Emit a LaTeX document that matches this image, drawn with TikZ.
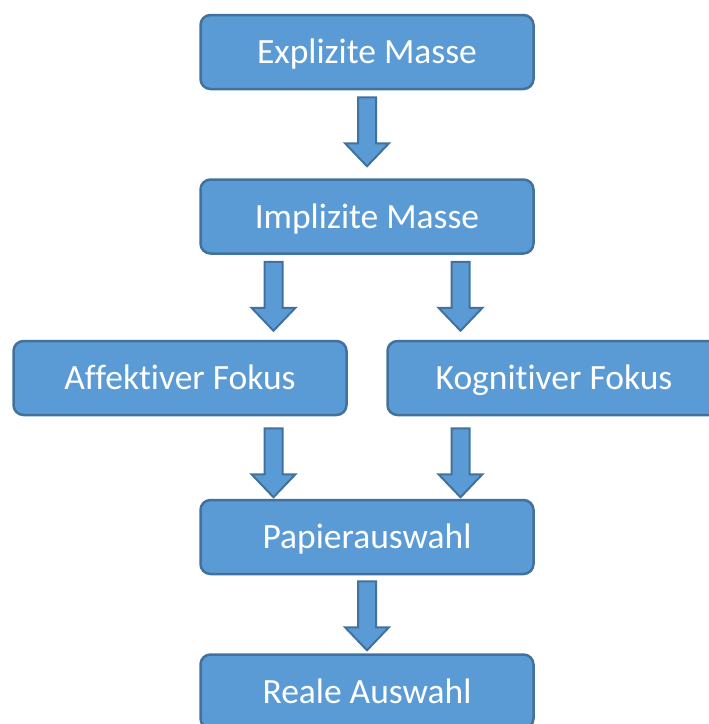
\documentclass[tikz,border=0pt]{standalone}
\usepackage{fontspec}
\setmainfont[RawFeature=-liga]{Carlito}
\usetikzlibrary{positioning,calc}
\definecolor{boxblue}{HTML}{5B9BD5}
\definecolor{boxline}{HTML}{41719C}

\tikzset{
  stage/.style={draw=boxline, line width=2.5pt, fill=boxblue, rounded corners=10pt,
    minimum width=333pt, minimum height=74pt, inner sep=0pt, text=white,
    text height=23pt, text depth=0pt, font=\fontsize{35.5}{40}\selectfont},
  blockarr/.style={draw=boxline, line width=2pt, fill=boxblue, line join=miter}
}

% block arrow: #1 x reference, #2 source node, #3 gap below the source
\newcommand{\blockarrow}[3]{%
  \draw[blockarr] let \p1=(#1), \p2=(#2.south) in
    (\x1-9pt,\y2-#3) -- (\x1+9pt,\y2-#3) -- (\x1+9pt,\y2-#3-46pt)
    -- (\x1+22pt,\y2-#3-46pt) -- (\x1,\y2-#3-69pt) -- (\x1-22pt,\y2-#3-46pt)
    -- (\x1-9pt,\y2-#3-46pt) -- cycle;}

\begin{document}
\begin{tikzpicture}[x=1pt,y=-1pt]
    \path[use as bounding box, clip] (0,0) rectangle (709,724);

    \node[stage] (expl) at (367,52) {Explizite Masse};
    \node[stage, below=88pt of expl] (impl) {Implizite Masse};
    \node[stage, below=85pt of impl, xshift=-187pt] (affekt) {Affektiver Fokus};
    \node[stage, below=85pt of impl, xshift=187pt] (kogn) {Kognitiver Fokus};
    \node[stage, below=84pt of impl, yshift=-160pt] (papier) {Papierauswahl};
    \node[stage, below=78pt of papier] (real) {Reale Auswahl};

    \coordinate (mL) at ($(impl)!0.5!(affekt)$);
    \coordinate (mR) at ($(impl)!0.5!(kogn)$);

    \blockarrow{expl}{expl}{7pt}
    \blockarrow{mL}{impl}{7pt}
    \blockarrow{mR}{impl}{7pt}
    \blockarrow{mL}{affekt}{12pt}
    \blockarrow{mR}{kogn}{12pt}
    \blockarrow{papier}{papier}{6pt}
\end{tikzpicture}
\end{document}
